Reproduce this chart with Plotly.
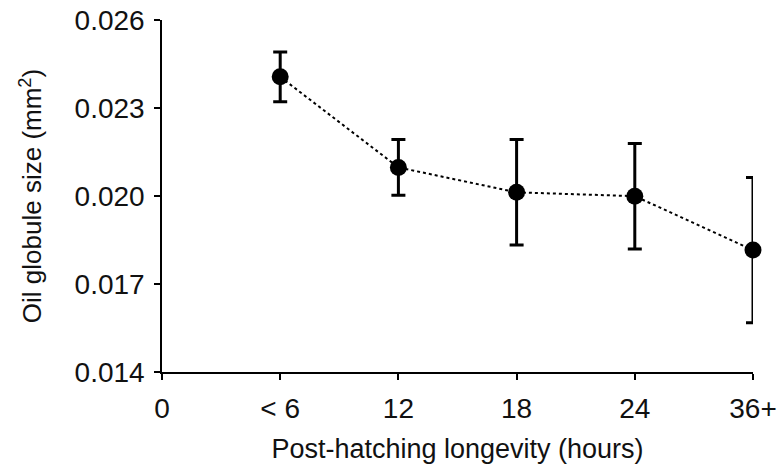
import plotly.graph_objects as go

categories = ["0", "< 6", "12", "18", "24", "36+"]
x_pos = [1, 2, 3, 4, 5]
values = [0.02407, 0.02098, 0.02013, 0.02000, 0.01816]
errors = [0.00085, 0.00095, 0.00180, 0.00180, 0.00248]
y_ticks = [0.014, 0.017, 0.020, 0.023, 0.026]

FONT = "Liberation Sans, Arial, sans-serif"

fig = go.Figure()
fig.add_trace(go.Scatter(
    x=x_pos, y=values,
    mode="lines+markers",
    line=dict(color="black", width=2, dash="dot"),
    marker=dict(color="black", size=17, symbol="circle"),
    error_y=dict(type="data", array=errors, visible=True,
                 color="black", thickness=3, width=7),
    cliponaxis=False,
    showlegend=False,
))

fig.update_layout(
    width=784, height=466,
    margin=dict(l=162, r=31, t=20, b=94),
    paper_bgcolor="white", plot_bgcolor="white",
    font=dict(family=FONT, size=28, color="#111"),
    xaxis=dict(
        range=[0, 5], automargin=False,
        tickmode="array", tickvals=list(range(len(categories))), ticktext=categories,
        showline=True, linecolor="black", linewidth=1.5,
        ticks="outside", ticklen=6, tickwidth=1.5, tickcolor="black",
        ticklabelstandoff=5, ticklabeloverflow="allow",
        showgrid=False, zeroline=False,
        title=dict(text="Post-hatching longevity (hours)", standoff=16,
                   font=dict(size=27)),
        tickfont=dict(size=28),
    ),
    yaxis=dict(
        range=[0.014, 0.02601], automargin=False,
        tickmode="array", tickvals=y_ticks,
        ticktext=[f"{v:.3f}" for v in y_ticks],
        showline=True, linecolor="black", linewidth=1.5,
        ticks="outside", ticklen=6, tickwidth=1.5, tickcolor="black",
        ticklabelstandoff=4, ticklabeloverflow="allow",
        showgrid=False, zeroline=False,
        title=dict(text="Oil globule size (mm<sup>2</sup>)", standoff=25,
                   font=dict(size=26)),
        tickfont=dict(size=28),
    ),
)

fig.write_html("out.html",
               config={"displayModeBar": False},
               post_script="document.body.style.margin='0';document.body.style.overflow='hidden';")
